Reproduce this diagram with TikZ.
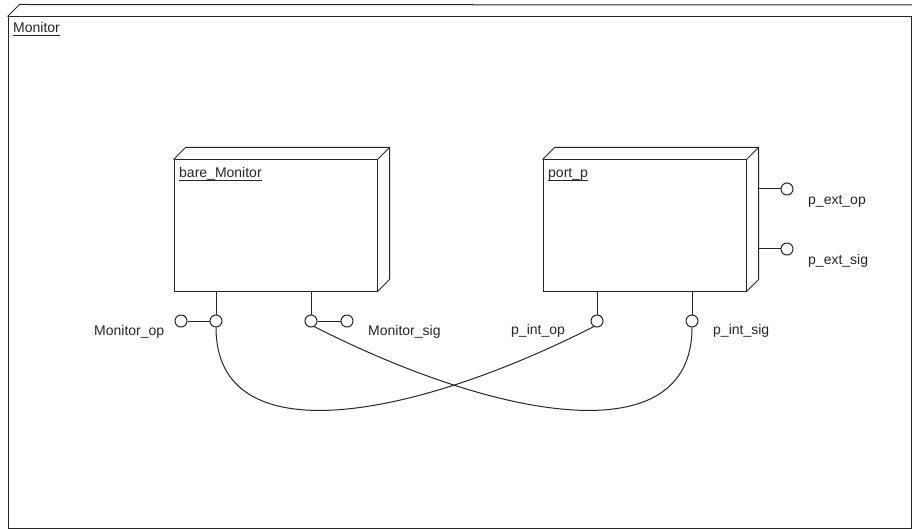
\documentclass[tikz,border=0pt]{standalone}
\usepackage{fontspec}
\setmainfont{Liberation Sans}
\begin{document}
\begin{tikzpicture}[x=1pt,y=-1pt,
  ln/.style={draw=black!85, line width=1pt},
  face/.style={draw=black!85, line width=1pt, fill=white, inner sep=0pt, rectangle},
  port/.style={circle, draw=black!85, line width=1pt, fill=white, minimum size=12pt, inner sep=0pt},
  lbl/.style={font=\fontsize{14}{16}\selectfont, text=black!85, inner sep=0pt, anchor=base west},
  uln/.style={draw=black!85, line width=0.9pt}]
\useasboundingbox (0,0) rectangle (912,529);
% outer frame
\node[face, minimum width=903pt, minimum height=511pt] (outer) at (459.5,272.5) {};
\draw[ln] (outer.north west) -- ++(12,-12) -- (912,5);
\node[lbl] (tmon) at (13,33) {Monitor};
\draw[uln] ([yshift=-2.5pt]tmon.base west) -- ([yshift=-2.5pt]tmon.base east);
% bare_Monitor
\node[face, minimum width=203pt, minimum height=131pt] (bm) at (275.5,225.5) {};
\draw[ln] (bm.north west) -- ++(12,-12) -- ([shift={(12,-12)}]bm.north east) coordinate (bmtr)
  -- ([shift={(12,-12)}]bm.south east) -- (bm.south east);
\draw[ln] (bm.north east) -- (bmtr);
\node[lbl] (tbm) at (179,178) {bare\_Monitor};
\draw[uln] ([yshift=-2.5pt]tbm.base west) -- ([yshift=-2.5pt]tbm.base east);
% port_p
\node[face, minimum width=203pt, minimum height=131pt] (pp) at (644.5,225.5) {};
\draw[ln] (pp.north west) -- ++(12,-12) -- ([shift={(12,-12)}]pp.north east) coordinate (pptr)
  -- ([shift={(12,-12)}]pp.south east) coordinate (ppbr) -- (pp.south east);
\draw[ln] (pp.north east) -- (pptr);
\node[lbl] (tpp) at (548,178) {port\_p};
\draw[uln] ([yshift=-2.5pt]tpp.base west) -- ([yshift=-2.5pt]tpp.base east);
% ports of bare_Monitor
\node[port] (mo) at (216,321) {};
\node[port] (mox) at (181,321) {};
\node[port] (ms) at (311,321) {};
\node[port] (msx) at (347,321) {};
\draw[ln] (mo.north |- bm.south) -- (mo.north);
\draw[ln] (ms.north |- bm.south) -- (ms.north);
\draw[ln] (mox.east) -- (mo.west);
\draw[ln] (ms.east) -- (msx.west);
\node[lbl] (lmo) at (94,335) {Monitor\_op};
\node[lbl] (lms) at (368,335) {Monitor\_sig};
% ports of port_p
\node[port] (pio) at (597,321) {};
\node[port] (pis) at (692,321) {};
\draw[ln] (pio.north |- pp.south) -- (pio.north);
\draw[ln] (pis.north |- pp.south) -- (pis.north);
\node[lbl] (lpio) at (511,334) {p\_int\_op};
\node[lbl] (lpis) at (713,334) {p\_int\_sig};
\node[port] (pe1) at (787,189) {};
\node[port] (pe2) at (787,249) {};
\draw[ln] (pe1.west -| ppbr) -- (pe1.west);
\draw[ln] (pe2.west -| ppbr) -- (pe2.west);
\node[lbl] (lpe1) at (808,205) {p\_ext\_op};
\node[lbl] (lpe2) at (808,265) {p\_ext\_sig};
% links
\draw[ln] (mo.south) .. controls (216,455) and (410,420) .. (pio.-120);
\draw[ln] (ms.-60) .. controls (498,420) and (692,455) .. (pis.south);
\end{tikzpicture}
\end{document}
